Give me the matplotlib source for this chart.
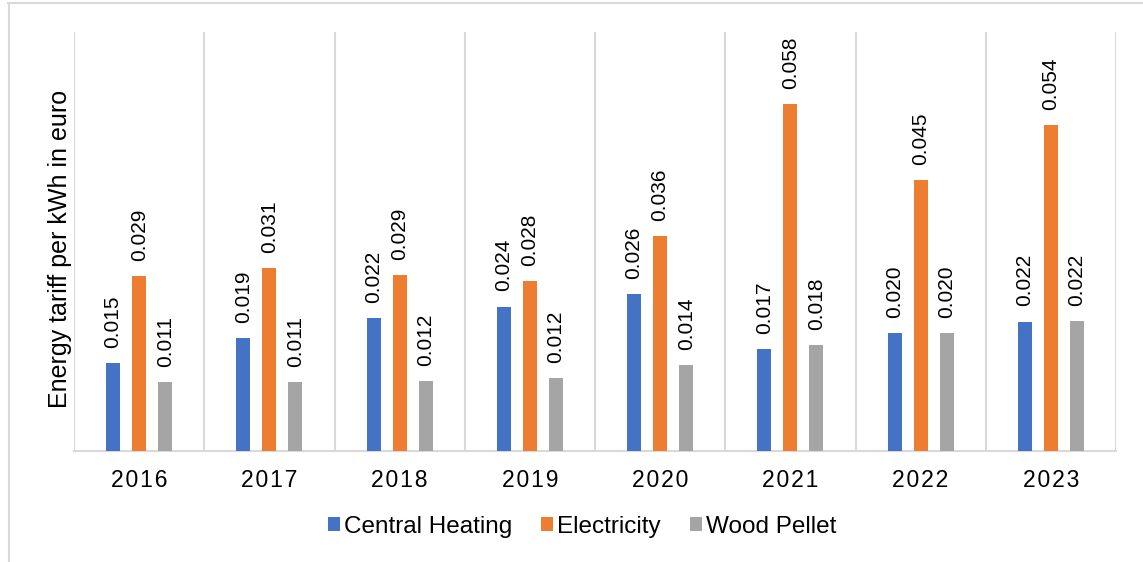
import numpy as np
import matplotlib.pyplot as plt
from matplotlib.lines import Line2D
from matplotlib.patches import Patch

plt.rcParams['font.family'] = ['Liberation Sans', 'DejaVu Sans']

# Data
years = ['2016', '2017', '2018', '2019', '2020', '2021', '2022', '2023']
central_heating = [0.0147, 0.0189, 0.0222, 0.0241, 0.0262, 0.0170, 0.0197, 0.0216]
electricity = [0.0292, 0.0306, 0.0294, 0.0284, 0.0359, 0.0580, 0.0453, 0.0545]
wood_pellet = [0.0115, 0.0115, 0.0117, 0.0122, 0.0144, 0.0177, 0.0197, 0.0217]
series_names = ['Central Heating', 'Electricity', 'Wood Pellet']
colors = ['#4472C4', '#ED7D31', '#A5A5A5']

W, H = 1143, 562
fig = plt.figure(figsize=(W / 100, H / 100), dpi=100)
ax = fig.add_axes([74 / W, 1 - 451 / H, (1116 - 74) / W, (451 - 32) / H])

x = np.arange(len(years))
offsets = [-0.2, 0.0, 0.2]
for vals, off, c in zip([central_heating, electricity, wood_pellet], offsets, colors):
    bars = ax.bar(x + off, vals, width=0.107, color=c, zorder=3)
    for b, v in zip(bars, vals):
        ax.annotate('{:.3f}'.format(v), (b.get_x() + b.get_width() / 2, v),
                    xytext=(0, 11), textcoords='offset points',
                    rotation=90, ha='center', va='bottom', fontsize=15)

ax.set_xlim(-0.5, len(years) - 0.5)
ax.set_ylim(0, 0.070)
ax.set_yticks([])
ax.set_xticks(x)
# letter-spaced year labels like the original
ax.set_xticklabels(['\u200a'.join(y) for y in years], fontsize=16.5)
ax.tick_params(axis='x', length=0, pad=13)

# vertical separators between categories
for b in np.arange(len(years) + 1) - 0.5:
    ax.axvline(b, color='#d9d9d9', lw=1.5, zorder=1)
for s in ['top', 'right', 'left']:
    ax.spines[s].set_visible(False)
ax.spines['bottom'].set_color('#d9d9d9')
ax.spines['bottom'].set_linewidth(1.5)

fig.text(60 / W, 1 - 249 / H, 'Energy tariff per kWh in euro', rotation=90,
         ha='center', va='center', fontsize=18)

handles = [Patch(facecolor=c, edgecolor='none') for c in colors]
fig.legend(handles, series_names, loc='center', bbox_to_anchor=(582 / W, 1 - 527 / H),
           ncol=3, frameon=False, fontsize=17.5, handlelength=0.5, handleheight=0.5,
           handletextpad=0.15, columnspacing=1.2)

# chart border (top and left visible in the reference)
fig.add_artist(Line2D([8 / W, 1], [1 - 2.5 / H, 1 - 2.5 / H], color='#d9d9d9', lw=1.5))
fig.add_artist(Line2D([8.5 / W, 8.5 / W], [0, 1 - 2.5 / H], color='#d9d9d9', lw=1.5))

fig.savefig('out.png', dpi=100)
